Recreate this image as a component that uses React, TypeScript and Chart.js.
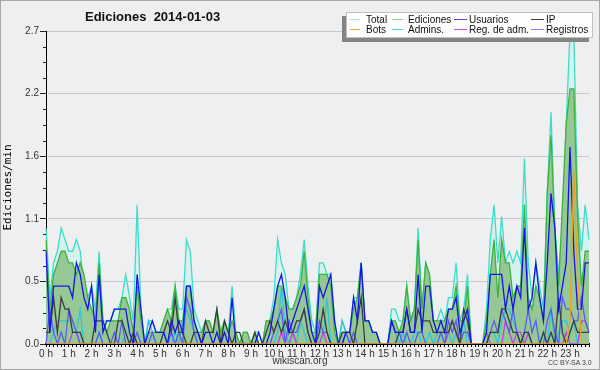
import React, { useEffect, useRef } from "react";
import { Chart, registerables } from "chart.js";
Chart.register(...registerables);

const HOUR_LABELS = ["0 h","1 h","2 h","3 h","4 h","5 h","6 h","7 h","8 h","9 h","10 h","11 h","12 h","13 h","14 h","15 h","16 h","17 h","18 h","19 h","20 h","21 h","22 h","23 h"];
const POINTS_PER_HOUR = 6;

const Y_TICKS = [0, 0.54, 1.08, 1.62, 2.16, 2.7];
const Y_TICK_LABELS = ["0.0", "0.5", "1.1", "1.6", "2.2", "2.7"];

const TOTAL = [
1.0,0.4,0.7,0.8,1.0,0.9,
0.8,0.8,0.9,0.8,0.5,0.4,
0.5,0.3,0.8,0.2,0.2,0.2,
0.3,0.3,0.4,0.6,0.4,0.2,
1.2,0.3,0.0,0.2,0.2,0.1,
0.1,0.2,0.3,0.3,0.5,0.3,
0.3,0.9,0.8,0.3,0.2,0.1,
0.2,0.2,0.1,0.3,0.1,0.2,
0.1,0.5,0.1,0.0,0.1,0.1,
0.0,0.1,0.1,0.0,0.2,0.2,
0.4,0.9,0.7,0.6,0.3,0.3,
0.4,0.6,0.9,0.5,0.2,0.1,
0.7,0.7,0.6,0.6,0.2,0.0,
0.2,0.1,0.1,0.4,0.4,0.7,
0.2,0.2,0.1,0.1,0.0,0.0,
0.0,0.3,0.3,0.2,0.2,0.5,
0.2,0.3,1.0,0.3,0.7,0.6,
0.2,0.2,0.3,0.2,0.4,0.4,
0.7,0.2,0.3,0.6,0.0,0.0,
0.0,0.0,0.3,0.9,1.2,0.7,
1.1,0.7,0.8,0.7,0.8,0.7,
1.6,0.7,0.4,0.7,0.5,0.3,
1.3,2.0,1.0,0.6,1.0,1.9,
2.7,2.7,1.2,0.8,1.2,0.9];

const EDICIONES = [
0.9,0.3,0.6,0.7,0.8,0.8,
0.7,0.7,0.6,0.7,0.6,0.4,
0.3,0.2,0.7,0.2,0.1,0.2,
0.2,0.2,0.4,0.4,0.3,0.1,
0.5,0.2,0.0,0.1,0.1,0.1,
0.1,0.2,0.3,0.2,0.5,0.2,
0.2,0.5,0.5,0.2,0.1,0.1,
0.2,0.2,0.1,0.3,0.1,0.2,
0.1,0.2,0.1,0.0,0.1,0.1,
0.0,0.1,0.0,0.0,0.2,0.2,
0.3,0.5,0.5,0.4,0.3,0.3,
0.4,0.5,0.8,0.4,0.1,0.1,
0.6,0.6,0.6,0.5,0.1,0.0,
0.1,0.1,0.1,0.3,0.4,0.7,
0.2,0.2,0.1,0.1,0.0,0.0,
0.0,0.2,0.2,0.1,0.2,0.5,
0.2,0.3,0.9,0.3,0.7,0.6,
0.2,0.2,0.2,0.2,0.3,0.3,
0.5,0.2,0.2,0.5,0.0,0.0,
0.0,0.0,0.2,0.6,0.9,0.4,
0.9,0.7,0.7,0.4,0.5,0.5,
1.2,0.4,0.3,0.5,0.4,0.2,
1.3,1.8,1.0,0.5,1.2,1.9,
2.2,2.2,1.1,0.5,0.8,0.8];

const USUARIOS = [
0.8,0.1,0.5,0.5,0.5,0.5,
0.5,0.4,0.7,0.6,0.4,0.3,
0.5,0.1,0.6,0.1,0.2,0.2,
0.3,0.3,0.3,0.3,0.1,0.0,
0.6,0.3,0.0,0.1,0.2,0.1,
0.1,0.1,0.0,0.2,0.1,0.2,
0.1,0.5,0.5,0.2,0.1,0.0,
0.1,0.1,0.0,0.1,0.0,0.1,
0.0,0.4,0.0,0.0,0.0,0.0,
0.0,0.0,0.1,0.0,0.0,0.1,
0.3,0.5,0.6,0.4,0.1,0.2,
0.3,0.4,0.5,0.3,0.1,0.0,
0.5,0.4,0.5,0.6,0.2,0.0,
0.0,0.1,0.1,0.4,0.2,0.7,
0.2,0.2,0.1,0.1,0.0,0.0,
0.0,0.2,0.1,0.1,0.1,0.3,
0.1,0.1,0.6,0.1,0.5,0.5,
0.2,0.1,0.2,0.1,0.3,0.3,
0.4,0.1,0.2,0.3,0.0,0.0,
0.0,0.0,0.1,0.6,0.6,0.6,
0.6,0.3,0.5,0.3,0.5,0.4,
1.0,0.3,0.4,0.7,0.4,0.2,
0.7,1.3,1.0,0.3,0.5,0.7,
1.7,0.8,0.3,0.3,0.7,0.7];

const IP = [
0.1,0.1,0.4,0.1,0.4,0.3,
0.3,0.1,0.1,0.1,0.0,0.0,
0.0,0.2,0.2,0.2,0.1,0.0,
0.0,0.2,0.2,0.1,0.0,0.1,
0.0,0.0,0.0,0.0,0.0,0.0,
0.0,0.1,0.2,0.1,0.4,0.1,
0.1,0.0,0.0,0.1,0.1,0.0,
0.2,0.1,0.1,0.3,0.0,0.2,
0.1,0.0,0.1,0.1,0.0,0.0,
0.0,0.1,0.0,0.0,0.1,0.2,
0.1,0.2,0.1,0.2,0.1,0.1,
0.2,0.2,0.3,0.1,0.0,0.0,
0.1,0.3,0.1,0.0,0.0,0.0,
0.1,0.1,0.1,0.0,0.2,0.4,
0.0,0.0,0.0,0.0,0.0,0.0,
0.0,0.0,0.0,0.1,0.1,0.3,
0.1,0.1,0.3,0.2,0.2,0.2,
0.1,0.1,0.1,0.1,0.1,0.2,
0.1,0.0,0.3,0.2,0.0,0.0,
0.0,0.0,0.0,0.1,0.1,0.1,
0.3,0.3,0.2,0.1,0.1,0.0,
0.1,0.1,0.0,0.0,0.0,0.1,
0.0,0.1,0.0,0.4,0.1,0.0,
0.1,0.2,0.1,0.1,0.1,0.1];

const BOTS = [
0,0,0,0,0,0, 0,0,0,0,0,0, 0,0,0,0,0,0, 0,0,0,0,0,0,
0,0,0,0,0,0, 0,0,0,0,0,0, 0,0,0,0,0,0, 0,0,0,0,0,0,
0,0,0,0,0,0, 0,0,0,0,0,0, 0,0,0,0,0,0, 0,0,0,0,0,0,
0,0,0,0,0,0, 0,0,0,0,0,0, 0,0,0,0,0,0, 0,0,0,0,0,0,
0,0,0,0,0,0, 0,0,0,0,0,0, 0,0,0,0,0,0, 0,0,0,0,0,0,
0,0,0,0,0,0, 0,0,0,0,0,0, 0,0,0,0,0,0,
0.2,1.5,0.6,0.0,0.0,0.0];

const ADMINS = [
0.0,0.0,0.1,0.2,0.2,0.2,
0.2,0.2,0.1,0.3,0.0,0.0,
0.0,0.0,0.1,0.0,0.0,0.0,
0.0,0.0,0.0,0.1,0.0,0.0,
0.0,0.0,0.0,0.2,0.1,0.0,
0.0,0.1,0.0,0.0,0.1,0.0,
0.2,0.3,0.2,0.1,0.0,0.0,
0.0,0.0,0.0,0.0,0.0,0.0,
0.0,0.0,0.0,0.0,0.0,0.0,
0.0,0.0,0.0,0.0,0.0,0.0,
0.0,0.1,0.5,0.1,0.0,0.1,
0.0,0.2,0.1,0.0,0.0,0.0,
0.1,0.1,0.4,0.0,0.0,0.0,
0.2,0.1,0.0,0.0,0.0,0.0,
0.0,0.0,0.0,0.0,0.0,0.0,
0.0,0.2,0.1,0.0,0.1,0.0,
0.0,0.1,0.1,0.0,0.0,0.1,
0.0,0.1,0.1,0.0,0.1,0.0,
0.1,0.0,0.2,0.0,0.0,0.0,
0.0,0.0,0.0,0.1,0.1,0.0,
0.2,0.3,0.3,0.2,0.1,0.0,
0.1,0.1,0.0,0.0,0.0,0.1,
0.0,0.3,0.0,0.1,0.2,0.2,
0.1,0.2,0.0,0.0,0.0,0.0];

const REG_ADM = [
0,0,0,0,0,0, 0,0.1,0.1,0,0,0, 0,0,0,0,0,0, 0,0,0,0,0,0,
0,0,0,0,0,0, 0,0,0,0,0,0, 0,0,0,0,0,0, 0,0,0,0,0,0,
0,0,0,0,0,0, 0,0,0,0,0,0, 0,0,0.1,0,0,0.1, 0,0,0,0,0,0,
0,0.1,0,0,0,0, 0,0,0,0,0,0, 0,0,0,0,0,0, 0,0,0,0,0,0,
0,0,0,0,0,0, 0,0,0,0,0.1,0.2, 0.1,0,0,0,0,0, 0,0,0.1,0,0,0,
0,0.2,0.1,0,0.1,0.1, 0,0.1,0,0,0,0, 0,0,0,0,0,0.1,
0,0,0,0.2,0.2,0.1];

const REGISTROS = [
0.0,0.3,0.1,0.0,0.1,0.0,
0.3,0.2,0.1,0.0,0.0,0.0,
0.0,0.0,0.1,0.0,0.0,0.0,
0.1,0.0,0.2,0.0,0.0,0.0,
0.1,0.0,0.0,0.0,0.1,0.0,
0.0,0.0,0.0,0.1,0.0,0.1,
0.0,0.4,0.3,0.1,0.0,0.0,
0.0,0.0,0.0,0.0,0.0,0.0,
0.0,0.0,0.0,0.0,0.0,0.0,
0.0,0.0,0.0,0.0,0.0,0.0,
0.1,0.2,0.3,0.0,0.2,0.1,
0.1,0.2,0.3,0.1,0.0,0.0,
0.2,0.1,0.1,0.0,0.0,0.0,
0.0,0.1,0.0,0.1,0.0,0.0,
0.0,0.0,0.0,0.0,0.0,0.0,
0.0,0.2,0.1,0.1,0.0,0.1,
0.0,0.0,0.1,0.1,0.0,0.0,
0.0,0.0,0.1,0.0,0.2,0.1,
0.2,0.0,0.1,0.1,0.0,0.0,
0.0,0.0,0.0,0.1,0.2,0.1,
0.3,0.2,0.1,0.3,0.1,0.0,
0.1,0.3,0.1,0.2,0.0,0.0,
0.2,0.3,0.1,0.0,0.4,0.3,
0.3,0.2,0.2,0.4,0.2,0.1];

const C = {
  total: "#3fdcc8",
  totalFill: "#d6f2ee",
  edic: "#3cb43c",
  edicFill: "#96c896",
  usu: "#1414e6",
  ip: "#3c3c3c",
  bots: "#f0a020",
  admins: "#30c4dc",
  regAdm: "#c040e0",
  registros: "#5a5af5",
};

const LEGEND = [
  { label: "Total", color: "#a8e8e0", col: 0, row: 0 },
  { label: "Ediciones", color: "#90d090", col: 1, row: 0 },
  { label: "Usuarios", color: "#4848e0", col: 2, row: 0 },
  { label: "IP", color: "#404040", col: 3, row: 0 },
  { label: "Bots", color: "#f0a030", col: 0, row: 1 },
  { label: "Admins.", color: "#50c8e0", col: 1, row: 1 },
  { label: "Reg. de adm.", color: "#d050e0", col: 2, row: 1 },
  { label: "Registros", color: "#8080f0", col: 3, row: 1 },
];
const LEG_SWATCH_X = [3, 45, 107, 184];
const LEG_SWATCH_W = [10, 11, 13, 13];
const LEG_TEXT_X = [19, 61, 122, 199];

export default function App() {
  const ref = useRef<HTMLCanvasElement>(null);
  useEffect(() => {
    document.body.style.margin = "0";
    const X_LABELS: string[] = [];
    for (let i = 0; i < TOTAL.length; i++) {
      X_LABELS.push(i % POINTS_PER_HOUR === 0 ? HOUR_LABELS[i / POINTS_PER_HOUR] : "");
    }
    const Y_MINOR: number[] = [];
    for (let k = 0; k < Y_TICKS.length - 1; k++) {
      const step = (Y_TICKS[k + 1] - Y_TICKS[k]) / 4;
      for (let m = 1; m < 4; m++) Y_MINOR.push(Y_TICKS[k] + step * m);
    }
    const minorTicks = {
      id: "minorTicks",
      afterDraw(chart: any) {
        const y = chart.scales.y;
        const ctx = chart.ctx;
        ctx.save();
        ctx.strokeStyle = "#222";
        ctx.lineWidth = 1;
        for (const v of Y_MINOR) {
          const py = Math.round(y.getPixelForValue(v)) + 0.5;
          ctx.beginPath();
          ctx.moveTo(y.right - 3, py);
          ctx.lineTo(y.right, py);
          ctx.stroke();
        }
        ctx.restore();
      },
    };
    const line = (label: string, data: number[], color: string, order: number, extra: any = {}) => ({
      label, data, borderColor: color, borderWidth: 1.3, pointRadius: 0, tension: 0, fill: false, order, ...extra,
    });
    const chart = new Chart(ref.current!, {
      type: "line",
      data: {
        labels: X_LABELS,
        datasets: [
          line("Total", TOTAL, C.total, 20, { fill: "origin", backgroundColor: C.totalFill }),
          line("Ediciones", EDICIONES, C.edic, 19, { fill: "origin", backgroundColor: C.edicFill }),
          line("Admins.", ADMINS, C.admins, 6),
          line("Reg. de adm.", REG_ADM, C.regAdm, 5),
          line("Registros", REGISTROS, C.registros, 4),
          line("IP", IP, C.ip, 3),
          line("Usuarios", USUARIOS, C.usu, 2),
          line("Bots", BOTS, C.bots, 1),
        ],
      },
      options: {
        animation: false,
        responsive: false,
        maintainAspectRatio: false,
        layout: { padding: { left: 0, right: 10, top: 30, bottom: 0 } },
        plugins: { legend: { display: false }, tooltip: { enabled: false }, title: { display: false } },
        scales: {
          x: {
            type: "category",
            offset: false,
            z: 1,
            grid: { display: true, drawOnChartArea: false, tickLength: 3, tickColor: "#000", tickWidth: 1 },
            border: { display: true, color: "#000", width: 2 },
            ticks: {
              autoSkip: false, maxRotation: 0, minRotation: 0, padding: 1,
              color: "#333", font: { family: '"Liberation Sans", Arial, sans-serif', size: 10 },
            },
            afterFit: (s: any) => { s.height = 25; },
          },
          y: {
            min: 0, max: 2.7,
            afterBuildTicks: (s: any) => { s.ticks = Y_TICKS.map((v) => ({ value: v })); },
            grid: {
              color: (c: any) => (c.tick && c.tick.value === 0 ? "rgba(0,0,0,0)" : "#c8c8c8"),
              tickColor: "#222", tickLength: 6, lineWidth: 1,
            },
            border: { display: true, color: "#000", width: 1 },
            ticks: {
              padding: 1, color: "#333",
              font: { family: '"Liberation Sans", Arial, sans-serif', size: 10 },
              callback: (_v: any, i: number) => Y_TICK_LABELS[i],
            },
            title: {
              display: true, text: "Ediciones/min", color: "#000",
              font: { family: '"DejaVu Sans Mono", monospace', size: 11 },
              padding: { top: 1, bottom: 0 },
            },
            afterFit: (s: any) => { s.width = 45; },
          },
        },
      },
      plugins: [minorTicks],
    } as any);
    return () => chart.destroy();
  }, []);

  return (
    <div style={{
      position: "absolute", left: 0, top: 0, width: 600, height: 370, boxSizing: "border-box",
      border: "1px solid #a8a8a8", background: "#eeeff1", overflow: "hidden",
      fontFamily: '"Liberation Sans", Arial, sans-serif',
    }}>
      <canvas ref={ref} width={598} height={368} style={{ position: "absolute", left: 0, top: 0, width: 598, height: 368 }} />
      <div style={{ position: "absolute", left: 84, top: 8, fontSize: 13, fontWeight: "bold", color: "#111", whiteSpace: "pre", lineHeight: "15px" }}>
        {"Ediciones  2014-01-03"}
      </div>
      <div style={{
        position: "absolute", left: 345, top: 11, width: 245, height: 24, background: "#fefefe",
        border: "1px solid #c0c0c0", boxShadow: "-4px 4px 0 #858585",
      }}>
        {LEGEND.map((e) => (
          <React.Fragment key={e.label}>
            <div style={{ position: "absolute", left: LEG_SWATCH_X[e.col], top: 6 + e.row * 10, width: LEG_SWATCH_W[e.col], height: 1, background: e.color }} />
            <div style={{ position: "absolute", left: LEG_TEXT_X[e.col], top: 1 + e.row * 10, fontSize: 10, lineHeight: "11px", color: "#111", whiteSpace: "nowrap" }}>
              {e.label}
            </div>
          </React.Fragment>
        ))}
      </div>
      <div style={{ position: "absolute", left: 0, width: 598, top: 354, textAlign: "center", fontSize: 10, color: "#333" }}>wikiscan.org</div>
      <div style={{ position: "absolute", left: 547, top: 357, fontSize: 7, color: "#444", whiteSpace: "nowrap", lineHeight: "9px" }}>CC BY-SA 3.0</div>
    </div>
  );
}
